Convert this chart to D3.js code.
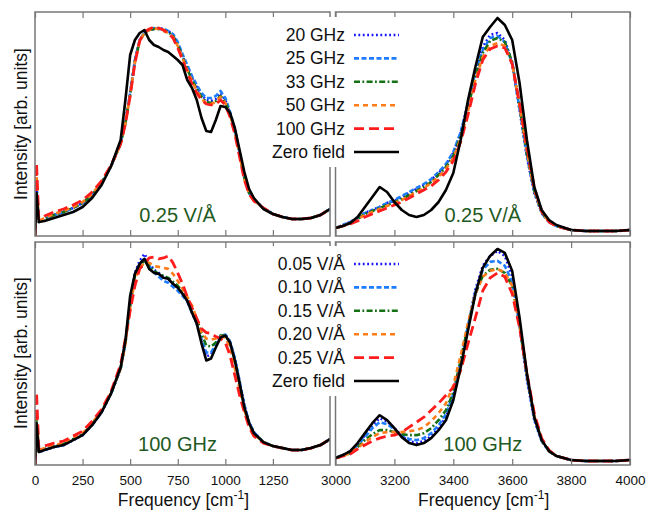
<!DOCTYPE html>
<html>
<head>
<meta charset="utf-8">
<script src="https://cdn.jsdelivr.net/npm/d3@7"></script>
<style>
  body { margin: 0; background: #fff; }
  text { font-family: "Liberation Sans", Arial, Helvetica, sans-serif; }
</style>
</head>
<body>
<div id="container"></div>
<script>
let w = 651;
let h = 512;

// frequency grids (cm-1)
let freqLow = [0, 8, 20, 50, 100, 150, 200, 250, 300, 350, 400, 450, 475, 500, 525, 550, 575, 600, 625, 650, 675, 700, 725, 750, 775, 800, 825, 850, 875, 900, 925, 950, 975, 1000, 1025, 1050, 1075, 1100, 1125, 1150, 1200, 1250, 1300, 1350, 1400, 1450, 1500, 1550];
let freqHigh = [3000, 3025, 3050, 3075, 3100, 3125, 3150, 3175, 3200, 3225, 3250, 3275, 3300, 3325, 3350, 3375, 3400, 3425, 3450, 3475, 3500, 3525, 3550, 3575, 3600, 3625, 3650, 3675, 3700, 3725, 3750, 3800, 3850, 3900, 3950, 4000];

let ticksLow = [0, 250, 500, 750, 1000, 1250];
let ticksHigh = [3000, 3200, 3400, 3600, 3800, 4000];

let namesTop = ["20 GHz", "25 GHz", "33 GHz", "50 GHz", "100 GHz", "Zero field"];
let namesBottom = ["0.05 V/Å", "0.10 V/Å", "0.15 V/Å", "0.20 V/Å", "0.25 V/Å", "Zero field"];

// top row: 0.25 V/A at different frequencies, low-frequency band
let topLow20 = [0, 51, 14, 17, 21, 24, 28, 33, 41, 53, 70, 93, 114, 143, 176, 196, 203, 206, 207, 208, 207, 205, 201, 192, 180, 169, 158, 149, 141, 136, 135, 137, 143, 136, 123, 106, 83, 59, 43, 36, 28, 22, 19, 17, 17, 18, 21, 27];
let topLow25 = [0, 48, 14, 17, 21, 24, 28, 33, 41, 53, 70, 93, 114, 143, 176, 196, 203, 207, 208, 207, 207, 205, 202, 194, 182, 171, 160, 151, 143, 138, 138, 140, 145, 138, 124, 107, 83, 59, 43, 36, 28, 22, 19, 17, 17, 18, 21, 27];
let topLow33 = [0, 45, 14, 17, 21, 24, 28, 33, 41, 53, 70, 92, 113, 141, 174, 195, 203, 206, 207, 207, 206, 204, 200, 191, 179, 167, 156, 147, 139, 134, 133, 135, 140, 134, 122, 105, 82, 58, 43, 36, 28, 22, 19, 17, 17, 18, 21, 27];
let topLow50 = [0, 61, 15, 18, 22, 25, 29, 34, 42, 54, 70, 92, 113, 141, 174, 195, 203, 206, 208, 207, 205, 203, 199, 190, 178, 166, 155, 145, 137, 133, 132, 134, 139, 133, 121, 104, 81, 57, 42, 36, 28, 22, 19, 17, 17, 18, 21, 27];
let topLow100 = [0, 73, 17, 20, 24, 27, 31, 36, 44, 55, 71, 92, 112, 140, 173, 195, 204, 207, 209, 208, 206, 203, 198, 188, 176, 164, 152, 143, 136, 132, 131, 132, 136, 131, 119, 102, 79, 56, 42, 35, 28, 22, 19, 17, 17, 18, 21, 27];
let topLowZero = [0, 43, 14, 15, 18, 21, 24, 29, 38, 51, 70, 96, 136, 181, 196, 203, 206, 196, 191, 189, 186, 184, 180, 176, 171, 156, 148, 136, 118, 105, 104, 116, 130, 129, 123, 108, 86, 64, 47, 38, 27, 22, 19, 17, 17, 18, 21, 27];

// top row, OH stretch band
let topHigh20 = [8, 11, 14, 18, 23, 26, 29, 33, 35, 39, 43, 47, 51, 56, 63, 71, 83, 103, 133, 166, 189, 201, 203, 196, 173, 126, 79, 43, 23, 14, 10, 6, 5, 5, 5, 6];
let topHigh25 = [8, 11, 14, 18, 23, 26, 29, 33, 36, 40, 44, 48, 52, 57, 64, 72, 84, 104, 132, 164, 186, 198, 200, 194, 172, 127, 80, 44, 23, 14, 10, 6, 5, 5, 5, 6];
let topHigh33 = [8, 10, 13, 17, 22, 25, 28, 31, 34, 37, 41, 45, 49, 54, 61, 69, 80, 100, 128, 160, 183, 195, 198, 194, 174, 130, 82, 45, 24, 14, 10, 6, 5, 5, 5, 6];
let topHigh50 = [8, 10, 13, 17, 21, 24, 27, 30, 33, 36, 40, 44, 48, 53, 59, 67, 78, 97, 125, 156, 179, 190, 193, 190, 172, 130, 84, 46, 24, 14, 10, 6, 5, 5, 5, 6];
let topHigh100 = [8, 10, 12, 15, 19, 22, 25, 28, 31, 34, 38, 42, 46, 50, 56, 64, 75, 94, 121, 152, 176, 187, 190, 188, 172, 133, 88, 48, 25, 14, 10, 6, 5, 5, 5, 6];
let topHighZero = [8, 10, 13, 19, 29, 39, 49, 44, 34, 26, 21, 19, 21, 26, 34, 46, 63, 96, 136, 169, 199, 209, 218, 211, 196, 153, 96, 49, 26, 16, 11, 6, 5, 5, 5, 6];

// bottom row: 100 GHz at different field strengths
let botLow005 = [0, 45, 13, 15, 18, 20, 25, 30, 40, 53, 72, 97, 123, 163, 193, 205, 212, 203, 196, 193, 189, 187, 182, 178, 172, 165, 153, 142, 124, 109, 111, 120, 129, 131, 124, 107, 84, 60, 43, 33, 23, 19, 17, 15, 15, 17, 20, 26];
let botLow010 = [0, 44, 13, 15, 18, 20, 25, 30, 40, 53, 72, 97, 123, 162, 192, 202, 208, 200, 194, 189, 185, 183, 179, 175, 170, 164, 153, 143, 126, 113, 113, 121, 130, 131, 124, 107, 84, 60, 43, 33, 23, 19, 17, 15, 15, 17, 20, 26];
let botLow015 = [0, 46, 14, 16, 19, 21, 26, 31, 41, 54, 72, 97, 122, 160, 190, 200, 205, 200, 195, 192, 190, 188, 184, 180, 174, 167, 157, 147, 132, 120, 119, 123, 130, 130, 122, 105, 82, 58, 42, 32, 23, 19, 17, 15, 15, 17, 20, 26];
let botLow020 = [0, 52, 15, 17, 20, 22, 27, 32, 42, 55, 73, 97, 122, 158, 187, 198, 203, 203, 200, 199, 198, 197, 192, 185, 177, 169, 160, 147, 133, 127, 126, 127, 129, 128, 118, 97, 76, 55, 40, 31, 23, 19, 17, 15, 15, 17, 20, 26];
let botLow025 = [0, 73, 17, 19, 22, 24, 29, 34, 44, 56, 74, 101, 127, 155, 180, 197, 202, 208, 209, 207, 208, 210, 203, 193, 182, 169, 158, 147, 137, 133, 132, 129, 127, 123, 110, 90, 70, 53, 38, 29, 22, 19, 17, 15, 15, 17, 20, 26];
let botLowZero = [0, 42, 13, 15, 18, 20, 25, 30, 40, 53, 72, 98, 125, 170, 192, 202, 207, 197, 193, 192, 188, 187, 182, 178, 172, 165, 153, 142, 122, 105, 107, 118, 128, 130, 123, 105, 82, 58, 42, 32, 23, 19, 17, 15, 15, 17, 20, 26];

let botHigh005 = [7, 10, 14, 21, 30, 40, 47, 44, 37, 29, 24, 22, 24, 29, 37, 48, 68, 102, 140, 176, 200, 210, 215, 210, 190, 140, 86, 45, 24, 14, 9, 5, 4, 4, 4, 5];
let botHigh010 = [7, 10, 13, 20, 28, 37, 43, 41, 36, 30, 26, 25, 27, 32, 40, 51, 71, 104, 140, 174, 196, 204, 205, 200, 184, 140, 88, 46, 24, 14, 9, 5, 4, 4, 4, 5];
let botHigh015 = [7, 9, 12, 18, 25, 31, 35, 35, 33, 31, 30, 30, 32, 37, 45, 55, 73, 105, 140, 172, 190, 196, 197, 193, 180, 140, 90, 48, 25, 14, 9, 5, 4, 4, 4, 5];
let botHigh020 = [7, 9, 12, 17, 23, 28, 32, 33, 33, 33, 34, 35, 38, 44, 52, 62, 80, 110, 143, 172, 189, 195, 197, 193, 180, 141, 92, 49, 25, 14, 9, 5, 4, 4, 4, 5];
let botHigh025 = [7, 9, 11, 16, 20, 24, 27, 29, 30, 33, 38, 43, 48, 55, 62, 70, 78, 95, 122, 148, 175, 188, 193, 189, 172, 138, 92, 52, 27, 15, 9, 5, 4, 4, 4, 5];
let botHighZero = [7, 10, 14, 22, 32, 42, 50, 45, 37, 28, 22, 20, 22, 27, 35, 45, 65, 98, 135, 172, 198, 210, 217, 213, 195, 148, 92, 48, 25, 14, 9, 5, 4, 4, 4, 5];

// line styles, same order as the legend entries
let colors = ["#1414ff", "#1e7dff", "#167016", "#ff7c1a", "#ff1c1c", "#000000"];
let dashes = ["1.8,2.6", "5,2.5", "6,2.4,1.8,2.4", "5,4", "10,5", null];
let widths = [2.6, 2.6, 2.6, 2.6, 2.8, 2.6];

let viz = d3.select("#container")
  .append("svg")
    .attr("width", w)
    .attr("height", h)
    .style("background-color", "white");

let panels = [
  {x0: 35, x1: 330, y0: 12, y1: 236, freq: freqLow, ticks: ticksLow, dom: [0, 1550],
   series: [topLow20, topLow25, topLow33, topLow50, topLow100, topLowZero], note: "0.25 V/Å", labels: false},
  {x0: 335.5, x1: 630, y0: 12, y1: 236, freq: freqHigh, ticks: ticksHigh, dom: [3000, 4000],
   series: [topHigh20, topHigh25, topHigh33, topHigh50, topHigh100, topHighZero], note: "0.25 V/Å", labels: false},
  {x0: 35, x1: 330, y0: 242, y1: 465, freq: freqLow, ticks: ticksLow, dom: [0, 1550],
   series: [botLow005, botLow010, botLow015, botLow020, botLow025, botLowZero], note: "100 GHz", labels: true},
  {x0: 335.5, x1: 630, y0: 242, y1: 465, freq: freqHigh, ticks: ticksHigh, dom: [3000, 4000],
   series: [botHigh005, botHigh010, botHigh015, botHigh020, botHigh025, botHighZero], note: "100 GHz", labels: true}
];

panels.forEach(function(p, k){
  let xScale = d3.scaleLinear().domain(p.dom).range([p.x0, p.x1]);
  let yScale = d3.scaleLinear().domain([0, 224]).range([p.y1, p.y0]);

  viz.append("clipPath").attr("id", "clip" + k)
    .append("rect")
      .attr("x", p.x0).attr("y", p.y0)
      .attr("width", p.x1 - p.x0).attr("height", p.y1 - p.y0);

  let line = d3.line()
    .x(function(d){ return xScale(d[0]); })
    .y(function(d){ return yScale(d[1]); });

  let g = viz.append("g").attr("clip-path", "url(#clip" + k + ")");
  p.series.forEach(function(vals, i){
    let pts = p.freq.map(function(f, j){ return [f, vals[j]]; });
    g.append("path")
      .attr("d", line(pts))
      .attr("fill", "none")
      .attr("stroke", colors[i])
      .attr("stroke-width", widths[i])
      .attr("stroke-dasharray", dashes[i])
      .attr("stroke-linejoin", "round");
  });

  // inward ticks top and bottom
  let axB = d3.axisBottom(xScale).tickValues(p.ticks).tickSizeInner(-6).tickSizeOuter(0)
    .tickFormat(p.labels ? d3.format("d") : "");
  let axT = d3.axisTop(xScale).tickValues(p.ticks).tickSizeInner(-6).tickSizeOuter(0).tickFormat("");

  let gb = viz.append("g").attr("transform", "translate(0," + p.y1 + ")").call(axB);
  let gt = viz.append("g").attr("transform", "translate(0," + p.y0 + ")").call(axT);
  [gb, gt].forEach(function(a){
    a.select(".domain").remove();
    a.selectAll("line").attr("stroke", "#777").attr("stroke-width", 1.2);
  });
  gb.selectAll("text")
    .attr("y", 10)
    .attr("dy", "0.71em")
    .style("font-size", "13.5px")
    .style("font-family", "'Liberation Sans', Arial, sans-serif")
    .attr("fill", "#111");

  viz.append("rect")
    .attr("x", p.x0).attr("y", p.y0)
    .attr("width", p.x1 - p.x0).attr("height", p.y1 - p.y0)
    .attr("fill", "none")
    .attr("stroke", "#777")
    .attr("stroke-width", 1.5);

  viz.append("text")
    .attr("x", (p.x0 + p.x1) / 2 - 5 + (k % 2) * 5)
    .attr("y", p.y1 - 14)
    .attr("text-anchor", "middle")
    .style("font-size", "20px")
    .attr("fill", "#1f5a1f")
    .text(p.note);

  if (p.labels) {
    let t = viz.append("text")
      .attr("x", (p.x0 + p.x1) / 2 + 1)
      .attr("y", 506)
      .attr("text-anchor", "middle")
      .style("font-size", "17.5px")
      .attr("fill", "#111");
    t.append("tspan").text("Frequency [cm");
    t.append("tspan").attr("dy", -7).style("font-size", "12px").text("-1");
    t.append("tspan").attr("dy", 7).text("]");
  }
});

// y axis titles
[124, 353].forEach(function(cy){
  viz.append("text")
    .attr("transform", "translate(27," + cy + ") rotate(-90)")
    .attr("text-anchor", "middle")
    .style("font-size", "17.5px")
    .attr("fill", "#111")
    .text("Intensity [arb. units]");
});

// legends
function drawLegend(names, top){
  viz.append("rect")
    .attr("x", 262).attr("y", top - 18)
    .attr("width", 145).attr("height", 150)
    .attr("fill", "white");
  names.forEach(function(n, i){
    let cy = top + i * 23.4;
    viz.append("text")
      .attr("x", 345).attr("y", cy + 6)
      .attr("text-anchor", "end")
      .style("font-size", "17.5px")
      .attr("fill", "#111")
      .text(n);
    viz.append("line")
      .attr("x1", 354).attr("x2", 399)
      .attr("y1", cy).attr("y2", cy)
      .attr("stroke", colors[i])
      .attr("stroke-width", widths[i])
      .attr("stroke-dasharray", dashes[i]);
  });
}
drawLegend(namesTop, 35);
drawLegend(namesBottom, 264);
</script>
</body>
</html>
